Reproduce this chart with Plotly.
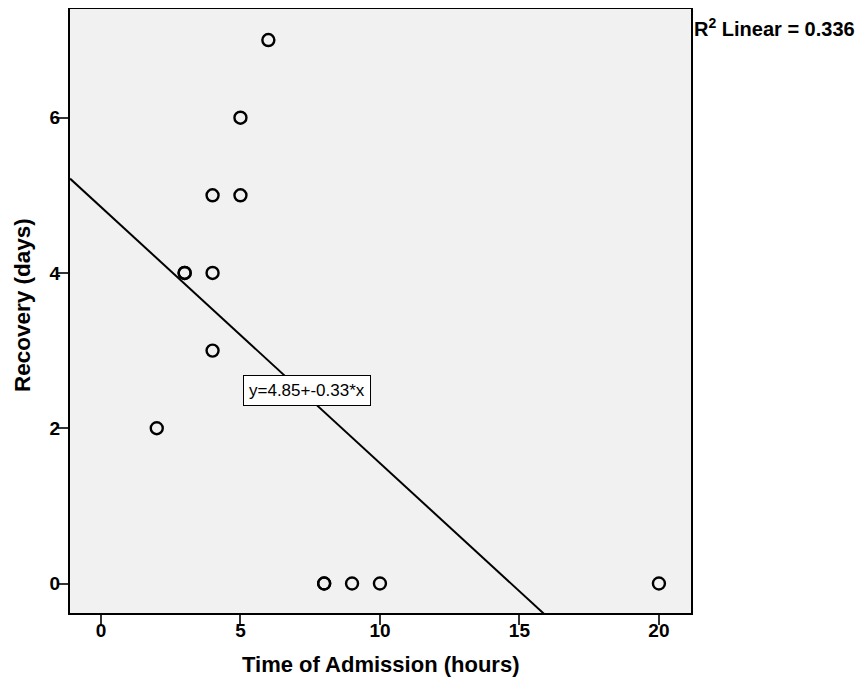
import plotly.graph_objects as go
import numpy as np

# Data
time_hours = [2, 3, 3, 4, 4, 4, 5, 5, 6, 8, 8, 9, 10, 20]
recovery_days = [2, 4, 4, 5, 4, 3, 6, 5, 7, 0, 0, 0, 0, 0]
intercept = 4.85
slope = -0.33
r2 = 0.336
x_ticks = [0, 5, 10, 15, 20]
y_ticks = [0, 2, 4, 6]
x_title = "Time of Admission (hours)"
y_title = "Recovery (days)"

x_range = [-1.11, 21.15]
y_range = [-0.38, 7.4]

fit_x = np.array(x_range)
fit_y = intercept + slope * fit_x

fig = go.Figure()
fig.add_trace(go.Scatter(
    x=fit_x, y=fit_y, mode="lines",
    line=dict(color="black", width=2), hoverinfo="skip", showlegend=False))
fig.add_trace(go.Scatter(
    x=time_hours, y=recovery_days, mode="markers",
    marker=dict(symbol="circle-open", size=12, color="black", line=dict(width=2.4)),
    showlegend=False))

font_family = "Liberation Sans, Arial, sans-serif"
narrow_family = "Liberation Sans Narrow, Liberation Sans, Arial, sans-serif"

fig.add_annotation(
    x=7.4, y=2.49, xref="x", yref="y",
    text=f"y={intercept:.2f}+{slope:.2f}*x", showarrow=False,
    font=dict(family=narrow_family, size=17, color="black"),
    bgcolor="white", bordercolor="black", borderwidth=1, borderpad=5)

fig.add_annotation(
    x=1.0, y=1.0, xref="paper", yref="paper", xanchor="left", yanchor="middle",
    yshift=-18, xshift=1,
    text=f"<b>R<sup>2</sup> Linear = {r2:.3f}</b>", showarrow=False,
    font=dict(family=font_family, size=20, color="black"))

# axis titles
fig.add_annotation(
    x=0.5, y=0, xref="paper", yref="paper", xanchor="center", yanchor="middle",
    yshift=-51, text=f"<b>{x_title}</b>", showarrow=False,
    font=dict(family=font_family, size=22, color="black"))
fig.add_annotation(
    x=0, y=0.5, xref="paper", yref="paper", xanchor="center", yanchor="middle",
    xshift=-48, yshift=6, textangle=-90, text=f"<b>{y_title}</b>", showarrow=False,
    font=dict(family=font_family, size=22.5, color="black"))

fig.update_xaxes(
    range=x_range, tickvals=x_ticks, ticks="outside", ticklen=10, tickwidth=2,
    tickcolor="#333", showgrid=False, zeroline=False, automargin=False,
    showline=True, linecolor="black", linewidth=2, mirror=True,
    ticklabelstandoff=-11,
    tickfont=dict(family=font_family, size=19, color="black", weight="bold"))
fig.update_yaxes(
    range=y_range, tickvals=y_ticks, ticks="outside", ticklen=10, tickwidth=2,
    tickcolor="#333", showgrid=False, zeroline=False, automargin=False,
    showline=True, linecolor="black", linewidth=2, mirror=True,
    ticklabelstandoff=-6,
    tickfont=dict(family=font_family, size=19, color="black", weight="bold"))

fig.update_layout(
    width=855, height=672,
    margin=dict(l=62, r=172, t=1, b=67),
    plot_bgcolor="#f1f1f1", paper_bgcolor="white",
    showlegend=False)

fig.write_html("out.html")
